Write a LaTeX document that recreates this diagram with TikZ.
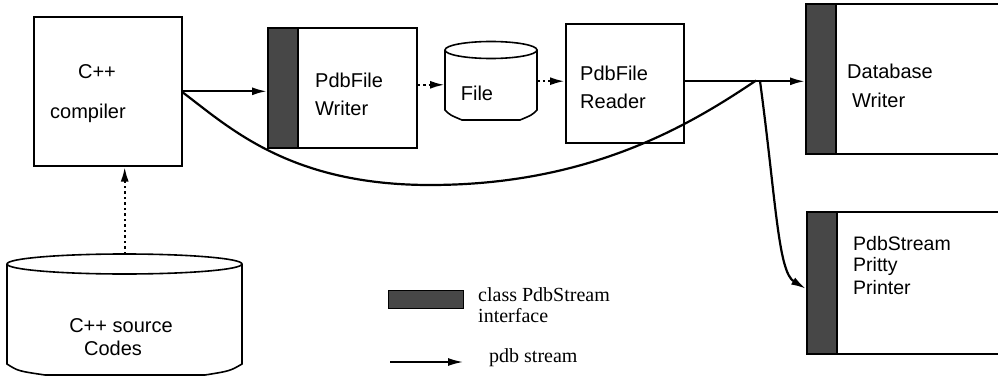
\documentclass[tikz,border=0pt]{standalone}
\usepackage{fontspec}
\setmainfont{Liberation Sans}
\newfontfamily\legendfont{Liberation Serif}
\usetikzlibrary{arrows.meta}
\begin{document}
\begin{tikzpicture}[x=1pt,y=-1pt,
  box/.style={draw, line width=1.6pt, fill=white, inner sep=0pt, anchor=north west},
  strip/.style={draw, line width=1.6pt, fill=black!72, inner sep=0pt, anchor=north west, minimum width=30pt},
  ghost/.style={inner sep=0pt, anchor=north west},
  lbl/.style={inner sep=0pt, font=\fontsize{20}{22}\selectfont},
  flow/.style={line width=2.2pt, -{Latex[length=15pt,width=8pt]}},
  dotflow/.style={line width=2.4pt, dash pattern=on 2.5pt off 3pt, -{Latex[length=15pt,width=8pt]}},
  curve/.style={line width=2.2pt},
]
\useasboundingbox (0,0) rectangle (998,385);

% C++ compiler
\node[box, minimum width=148pt, minimum height=149pt] (comp) at (33,16) {};
\node[lbl] (compA) at (97,72) {C++};
\node[lbl] (compB) at (88,113) {compiler};

% PdbFile Writer
\node[box, minimum width=149pt, minimum height=120pt] (wr) at (267,27) {};
\node[strip, minimum height=120pt] (wrs) at (267,27) {};
\node[lbl, anchor=west] (wrA) at (315,80) {PdbFile};
\node[lbl, anchor=west] (wrB) at (315,108) {Writer};

% File cylinder
\node[ghost, minimum width=92pt, minimum height=78pt] (file) at (445,42) {};
\draw[line width=1.6pt, fill=white] (445,50) -- (445,110) .. controls (450,115) .. (462,120) -- (520,120) .. controls (532,115) .. (537,110) -- (537,50);
\draw[line width=1.6pt] (491,50) ellipse [x radius=46, y radius=8.5];
\node[lbl] (fileA) at (477,93) {File};

% PdbFile Reader
\node[box, minimum width=118pt, minimum height=119pt] (rd) at (565,23) {};
\node[lbl, anchor=west] (rdA) at (580,73) {PdbFile};
\node[lbl, anchor=west] (rdB) at (580,101) {Reader};

% Database Writer
\node[box, minimum width=210pt, minimum height=150pt] (db) at (805,3) {};
\node[strip, minimum height=150pt] (dbs) at (805,3) {};
\node[lbl, anchor=west] (dbA) at (847,71) {Database};
\node[lbl, anchor=west] (dbB) at (852,100) {Writer};

% PdbStream Pritty Printer
\node[box, minimum width=210pt, minimum height=142pt] (pr) at (806,211) {};
\node[strip, minimum height=142pt] (prs) at (806,211) {};
\node[inner sep=0pt, anchor=west, font=\fontsize{19.5}{22}\selectfont] (prA) at (853,244) {PdbStream};
\node[inner sep=0pt, anchor=west, font=\fontsize{19.5}{22}\selectfont] (prB) at (853,266) {Pritty};
\node[inner sep=0pt, anchor=west, font=\fontsize{19.5}{22}\selectfont] (prC) at (853,288) {Printer};

% C++ source codes cylinder
\node[ghost, minimum width=235pt, minimum height=121pt] (src) at (7,254) {};
\draw[line width=1.6pt, fill=white] (7,264) -- (7,364) .. controls (18,371) .. (45,375) -- (205,375) .. controls (230,371) .. (242,364) -- (242,264);
\draw[line width=1.6pt] (124.5,264) ellipse [x radius=117.5, y radius=10];
\node[lbl] (srcA) at (121,326) {C++ source};
\node[lbl] (srcB) at (113,348) {Codes};

% connectors
\draw[flow] (comp.east) -- (comp.east -| wrs.west);
\draw[dotflow] ([yshift=3pt]wr.east) -- ([yshift=3pt]wr.east -| file.west);
\draw[dotflow] (file.east) -- (file.east -| rd.west);
\draw[flow] ([yshift=2pt]rd.east) -- ([yshift=2pt]rd.east -| dbs.west);
\coordinate (j) at (756,80.5);
\coordinate (j2) at (760,81);
\draw[curve] ([yshift=-1pt]comp.east) .. controls (230,128) and (290,185) .. (430,185) .. controls (590,185) and (690,125) .. (j);
\draw[flow] (j2) .. controls (776,200) and (778,272) .. ([yshift=-6pt]prs.west);
\draw[dotflow] (src.north) -- (src.north |- comp.south);

% legend
\node[inner sep=0pt, anchor=north west, draw, line width=1.2pt, fill=black!72, minimum width=75pt, minimum height=18pt] (lgbox) at (388,290) {};
\node[inner sep=0pt, anchor=west, font=\legendfont\fontsize{20}{22}\selectfont] (lgA) at (478,295) {class PdbStream};
\node[inner sep=0pt, anchor=west, font=\legendfont\fontsize{20}{22}\selectfont] (lgA2) at (478,316) {interface};
\coordinate (la) at (390,362);
\coordinate (lb) at (463,362);
\draw[flow, line width=1.6pt] (la) -- (lb);
\node[inner sep=0pt, anchor=west, font=\legendfont\fontsize{20}{22}\selectfont] (lgB) at (489,358) {pdb stream};
\end{tikzpicture}
\end{document}
